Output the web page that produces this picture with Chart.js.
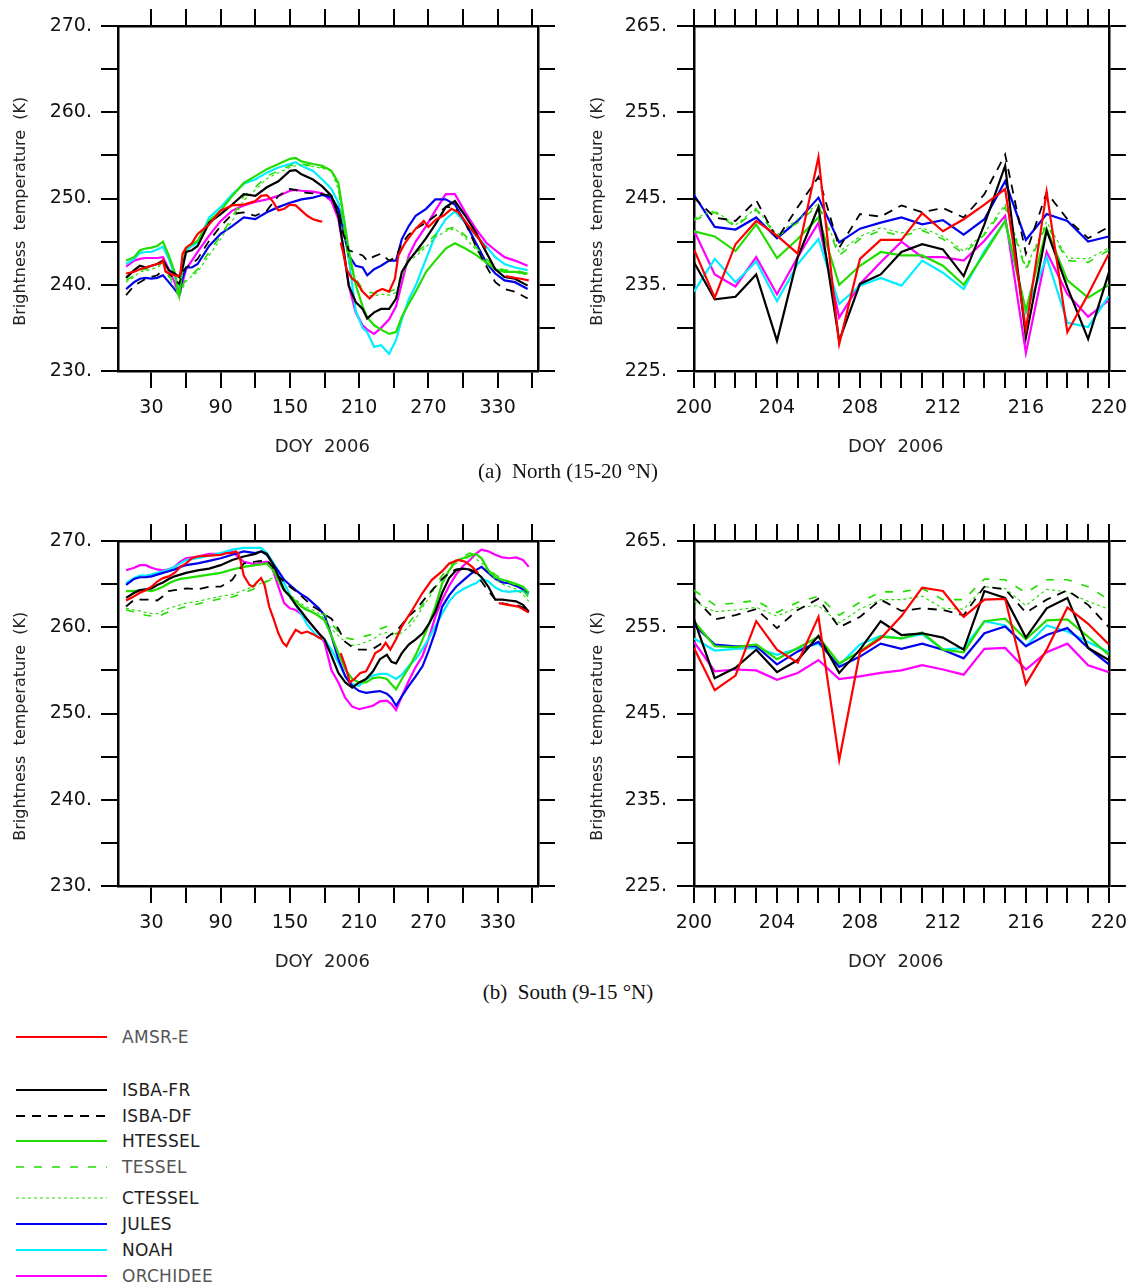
<!DOCTYPE html>
<html><head><meta charset="utf-8">
<script src="https://cdn.jsdelivr.net/npm/chart.js@4.4.1/dist/chart.umd.min.js"></script>
<style>
html,body{margin:0;padding:0;background:#fff;}
#wrap{position:relative;width:1136px;height:1288px;overflow:hidden;background:#fff;}
canvas{position:absolute;}
.cap{position:absolute;left:0;width:1136px;text-align:center;font-family:'Liberation Serif','Times New Roman',serif;font-size:21px;line-height:24px;color:#111;white-space:pre;}
.leg{position:absolute;left:122px;font-family:'DejaVu Sans',sans-serif;font-size:17px;line-height:20px;color:#222;white-space:pre;letter-spacing:0.3px;}
svg{position:absolute;}
</style></head><body><div id="wrap">
<canvas id="cTL" width="568" height="460" style="left:0;top:0"></canvas>
<canvas id="cTR" width="568" height="460" style="left:568px;top:0"></canvas>
<canvas id="cBL" width="568" height="460" style="left:0;top:515px"></canvas>
<canvas id="cBR" width="568" height="460" style="left:568px;top:515px"></canvas>
<div class="cap" style="top:459px">(a)  North (15-20 °N)</div>
<div class="cap" style="top:980px">(b)  South (9-15 °N)</div>
<div id="legend"></div>
</div>
<script>
// ---------------- DATA ----------------
const seriesNames = ['AMSR-E','ISBA-FR','ISBA-DF','HTESSEL','TESSEL','CTESSEL','JULES','NOAH','ORCHIDEE'];

const leftXTicks = [30,60,90,120,150,180,210,240,270,300,330,360];
const leftXLabels = [30,90,150,210,270,330];
const rightXTicks = [200,201,202,203,204,205,206,207,208,209,210,211,212,213,214,215,216,217,218,219,220];
const rightXLabels = [200,204,208,212,216,220];

// North, full year
const northDays = [8,15,20,25,30,35,40,45,50,54,57,60,65,70,80,90,100,110,120,130,140,150,155,160,170,178,186,192,196,201,207,213,217,223,229,236,242,247,253,259,268,276,285,293,302,311,320,328,336,345,356];
const northAmsrDays = [8,15,20,25,30,35,38,40,42,45,50,53,55,57,60,65,70,80,90,100,110,120,125,130,135,140,145,150,155,160,165,170,175,178,186,194,196,199,204,208,213,219,225,230,236,241,244,250,259,266,270,277,283,290,296,305,314,320,328,337,345,350,357];
const northAmsr = [241.3,241.5,241.8,242.0,242.2,242.4,242.5,242.8,241.6,241.3,241.1,241.0,241.2,243.6,244.3,244.8,245.9,247.0,248.6,249.2,249.3,249.7,250.3,250.4,249.7,248.6,248.8,249.3,249.2,248.6,248.0,247.6,247.4,247.3,null,244.9,243.8,241.8,240.7,240.3,239.2,238.4,239.2,239.5,239.2,240.7,243.4,244.9,246.5,247.4,246.7,247.6,248.0,248.8,248.4,246.8,245.3,244.2,null,241.0,240.8,240.7,240.5];
const northIsbaFr = [240.8,241.7,242.2,242.0,242.2,242.4,242.8,241.7,241.3,240.9,242.0,243.8,244.0,244.5,247.2,248.2,249.3,250.5,250.3,251.3,252.0,253.2,253.3,252.8,252.2,251.4,250.3,248.0,244.5,239.9,238.0,237.2,236.1,236.8,237.2,237.2,238.4,241.5,242.8,243.8,245.4,247.0,249.0,249.7,248.0,246.1,243.8,241.8,240.9,240.7,239.9];
const northIsbaDf = [238.8,239.9,240.3,240.7,240.9,241.1,241.7,241.3,240.7,240.1,241.5,242.0,242.4,243.0,245.1,246.8,248.2,248.4,248.0,248.6,250.3,251.1,251.0,250.7,250.6,250.5,250.3,248.6,246.0,244.0,243.7,243.4,242.8,243.3,243.6,242.8,243.2,244.8,245.8,246.5,247.2,248.0,249.0,249.0,247.2,244.5,242.2,240.3,239.5,239.2,238.4];
const northHtessel = [242.8,243.2,244.0,244.2,244.3,244.5,245.0,243.4,241.5,238.8,242.0,244.3,244.7,245.1,247.4,248.6,250.3,251.8,252.6,253.4,254.0,254.6,254.7,254.3,254.0,253.8,253.2,251.8,248.4,244.0,240.0,237.5,236.2,235.3,234.8,234.3,234.5,236.3,237.8,239.2,241.5,242.8,244.2,244.8,244.2,243.5,242.6,241.8,241.5,241.5,241.3];
const northTessel = [240.5,241.1,241.7,241.8,242.0,242.2,242.6,241.1,239.9,238.6,239.9,240.7,241.2,241.8,243.8,245.7,247.8,250.3,251.3,252.6,253.2,253.8,254.0,254.0,253.8,253.6,253.4,251.5,247.2,243.0,240.7,239.5,239.2,239.0,239.2,239.2,239.5,241.3,243.0,243.6,244.7,245.8,246.4,246.7,245.7,244.4,243.0,242.0,241.7,241.7,241.3];
const northCtessel = [240.3,240.9,241.5,241.6,241.8,242.0,242.4,240.9,239.7,238.5,239.6,240.4,241.0,241.5,243.4,245.3,247.4,249.8,251.0,252.3,253.0,253.6,253.8,253.9,253.7,253.5,253.2,251.0,246.8,242.6,240.3,239.0,238.8,238.7,238.9,238.8,239.1,240.9,242.7,243.3,244.4,245.5,246.2,246.5,245.4,244.1,242.7,241.8,241.5,241.5,241.1];
const northJules = [239.5,240.3,240.7,240.8,240.7,240.8,241.1,240.3,239.5,238.8,240.8,242.0,242.0,242.4,244.5,245.9,246.8,247.8,247.6,248.4,249.0,249.5,249.7,249.9,250.1,250.4,250.1,248.8,246.5,243.4,242.2,242.0,241.1,241.8,242.2,242.8,242.8,245.3,246.8,248.0,248.8,249.9,249.9,249.3,247.2,244.9,242.6,241.3,240.5,240.3,239.5];
const northNoah = [242.4,243.0,243.7,243.8,243.8,244.1,244.4,243.0,241.1,239.2,241.8,244.0,244.5,244.9,247.8,249.0,250.5,251.7,252.2,253.0,253.6,254.0,254.2,253.8,253.2,252.2,251.1,249.5,247.0,243.0,237.0,235.0,234.5,232.8,233.0,232.0,233.6,236.0,238.3,239.9,243.0,245.7,247.6,248.5,247.2,245.7,244.5,243.2,242.4,242.0,241.7];
const northOrchidee = [242.1,242.8,243.0,243.1,243.1,243.1,243.2,241.8,240.3,238.8,240.3,241.8,242.8,243.8,245.7,247.4,248.6,249.2,249.6,249.9,250.3,250.9,251.0,250.9,250.8,250.6,249.7,247.6,244.5,239.9,236.8,235.3,234.8,234.3,235.0,236.0,237.5,240.2,243.4,245.0,246.8,248.6,250.5,250.5,248.4,246.5,244.9,244.0,243.2,242.8,242.2];

// South, full year
const southDays = [8,15,20,25,30,35,40,45,50,55,60,70,80,90,100,110,120,125,130,135,140,145,150,155,160,165,170,175,180,186,192,198,204,210,216,222,228,234,238,242,247,253,259,265,270,276,282,288,294,300,306,311,316,322,328,334,340,346,352,357];
const southAmsrDays = [8,15,20,25,30,35,40,45,50,55,60,65,70,80,90,95,100,103,105,107,110,115,118,122,125,128,132,136,140,144,147,150,155,160,165,170,175,178,186,194,198,202,206,211,216,220,224,229,233,237,242,247,256,265,273,282,288,296,302,308,313,322,331,339,348,357];
const southAmsr = [263.1,263.6,264.0,264.3,264.7,265.3,265.7,265.9,266.3,267.0,267.4,268.0,268.2,268.3,268.4,268.6,268.6,268.8,268.6,267.8,266.0,264.9,264.7,265.3,265.7,264.9,262.4,260.9,259.3,258.2,257.8,258.6,259.7,259.3,259.5,259.2,258.8,258.6,null,257.0,255.5,253.6,254.0,254.7,254.9,255.9,257.0,257.4,258.2,257.4,258.6,260.1,262.0,264.0,265.5,266.5,267.4,267.8,267.6,267.0,266.3,null,262.8,262.6,262.4,261.7];
const southIsbaFr = [263.4,264.0,264.3,264.4,264.5,264.9,265.2,265.6,265.9,266.1,266.3,266.6,266.8,267.2,267.8,268.2,268.5,268.8,268.5,267.4,265.9,264.3,263.6,262.6,261.8,260.9,260.1,259.3,258.6,256.7,254.7,253.6,253.0,253.6,254.0,254.9,256.3,256.8,256.0,255.8,257.0,258.0,258.6,259.3,260.3,261.8,264.0,265.7,266.6,266.8,266.7,266.4,265.8,264.7,263.2,263.2,263.1,263.0,262.6,261.8];
const southIsbaDf = [262.4,263.2,263.2,263.2,263.2,263.1,263.6,264.2,264.3,264.4,264.5,264.4,264.7,264.7,265.5,267.4,267.6,267.7,267.8,267.0,265.9,265.3,264.7,264.2,263.6,263.0,262.4,262.0,261.5,261.0,259.8,258.3,257.7,257.4,257.4,257.5,258.0,258.8,259.2,259.5,260.3,261.3,262.0,263.0,263.8,264.7,265.6,266.3,266.7,266.8,266.6,266.3,265.3,264.2,263.2,262.8,262.6,262.6,262.3,261.7];
const southHtessel = [264.2,264.2,264.3,264.3,264.2,264.4,264.7,265.1,265.4,265.6,265.7,265.9,266.1,266.3,266.7,267.0,267.2,267.3,267.4,266.7,265.5,264.3,263.6,263.0,262.4,262.0,261.7,261.3,260.8,259.0,257.0,255.1,254.0,253.6,253.6,254.1,254.2,254.0,253.4,252.8,254.0,255.3,256.8,258.6,260.2,262.4,265.1,266.6,267.7,268.0,268.3,268.5,268.0,266.6,265.8,265.5,265.3,265.0,264.7,264.0];
const southTessel = [262.0,261.8,261.6,261.4,261.3,261.2,261.5,261.8,262.0,262.2,262.4,262.7,263.0,263.3,263.5,264.0,264.5,264.9,265.3,265.6,265.3,264.2,263.4,262.8,262.3,262.0,261.8,261.6,261.5,260.4,259.5,258.8,258.6,258.8,259.0,259.2,259.8,260.1,259.6,259.2,259.8,260.5,261.5,262.6,263.6,264.9,266.0,267.0,267.8,268.2,268.6,268.4,268.0,266.7,266.1,265.6,265.2,264.9,264.3,263.4];
const southCtessel = [262.2,262.0,261.9,261.7,261.6,261.6,261.9,262.2,262.4,262.6,262.8,263.0,263.3,263.6,263.8,264.3,264.8,265.1,265.4,265.7,265.4,264.5,263.8,263.2,262.7,262.3,262.0,261.6,261.0,259.8,259.0,258.3,257.9,258.0,258.3,258.6,259.2,259.4,259.2,258.8,259.4,260.0,261.0,262.3,263.3,264.6,265.6,266.6,267.4,267.8,268.2,267.9,267.5,266.4,265.6,265.0,264.7,264.4,263.8,263.0];
const southJules = [264.9,265.6,265.8,265.8,265.9,266.1,266.3,266.5,266.7,267.0,267.2,267.4,267.7,268.0,268.4,268.8,268.6,268.8,268.4,267.4,266.5,265.5,264.9,264.3,263.8,263.4,262.8,262.2,261.4,259.0,256.3,254.3,253.2,252.6,252.4,252.5,252.6,252.3,251.8,250.9,252.0,253.2,254.3,255.5,257.2,259.5,262.4,263.7,264.7,265.4,266.1,266.6,267.0,266.3,265.6,265.2,265.1,264.8,264.4,264.0];
const southNoah = [265.1,265.7,266.0,266.0,266.1,266.3,266.5,266.7,267.0,267.4,267.8,268.0,268.3,268.6,269.0,269.2,269.2,269.2,268.6,267.6,266.5,265.1,263.8,262.6,261.5,260.3,259.5,258.8,258.6,257.4,255.9,254.3,253.4,253.2,254.0,254.4,254.6,254.6,254.3,254.0,254.5,255.5,256.3,257.5,258.6,260.1,261.6,263.0,263.9,264.4,264.8,265.1,265.6,265.3,264.6,264.2,264.1,264.2,264.2,263.8];
const southOrchidee = [266.6,266.9,267.2,267.2,266.9,266.7,266.6,266.7,267.0,267.6,268.0,268.2,268.5,268.5,268.8,267.6,267.3,267.5,267.6,266.7,264.7,262.8,262.2,262.0,261.5,260.9,260.1,259.3,258.2,255.0,253.6,251.8,250.8,250.5,250.7,250.9,251.4,251.5,251.1,250.4,252.0,253.8,255.4,256.7,258.6,261.2,263.2,264.8,266.1,267.1,267.8,268.5,269.0,268.8,268.4,268.1,268.0,268.1,267.8,267.0];

// Zoom DOY 200-220
const zoomDays = [200,201,202,203,204,205,206,207,208,209,210,211,212,213,214,215,216,217,218,219,220];
const nzAmsr = [239.1,233.5,239.7,242.4,240.7,238.6,249.8,228.1,238.0,240.2,240.2,243.3,241.2,242.6,244.3,246.1,229.8,245.8,229.5,233.9,238.6];
const nzIsbaFr = [237.6,233.3,233.6,236.2,228.5,238.2,244.0,228.5,235.1,236.2,238.8,239.7,239.1,236.0,242.0,248.8,228.9,241.3,234.7,228.7,236.4];
const nzIsbaDf = [245.1,242.8,242.4,244.8,240.3,244.0,247.5,239.3,243.2,242.9,244.2,243.4,243.9,242.8,245.5,250.1,238.6,245.7,242.6,240.4,241.7];
const nzHtessel = [241.2,240.6,238.9,242.0,238.1,240.3,242.8,235.0,237.2,238.8,238.4,238.4,237.2,235.0,238.6,242.4,232.0,241.5,235.5,233.5,235.0];
const nzTessel = [242.5,243.4,241.7,243.7,240.6,242.2,244.2,238.4,240.3,241.3,240.6,241.3,240.3,238.6,240.8,244.0,236.7,242.0,237.8,237.6,239.0];
const nzCtessel = [242.7,243.6,241.9,243.9,240.8,242.6,244.4,238.8,240.6,241.6,241.0,241.6,240.6,238.9,241.0,244.3,237.0,242.3,238.1,238.0,239.3];
const nzJules = [245.4,241.7,241.4,242.8,240.4,242.4,245.1,239.9,241.5,242.2,242.8,242.0,242.5,240.8,242.6,247.0,240.2,243.2,242.4,240.0,240.6];
const nzNoah = [234.2,238.0,235.3,237.7,233.1,237.4,240.3,232.8,234.9,235.8,234.9,237.8,236.4,234.5,238.9,242.4,231.8,238.2,230.6,230.1,233.7];
const nzOrchidee = [241.3,236.2,234.8,238.2,233.9,238.2,242.2,231.2,235.1,237.6,240.0,238.2,238.2,237.8,240.1,243.0,227.1,238.8,233.9,231.3,233.2];

const szAmsr = [252.6,247.7,249.4,255.7,252.4,250.9,256.2,239.6,252.1,253.7,256.3,259.6,259.2,256.2,258.2,258.3,248.4,252.4,257.3,255.4,253.0];
const szIsbaFr = [255.9,249.1,250.3,252.4,249.8,251.2,254.0,249.7,252.4,255.7,254.1,254.3,253.8,252.4,259.2,258.4,253.8,257.2,258.4,252.6,251.2];
const szIsbaDf = [258.5,255.9,256.4,257.1,254.9,257.0,258.3,255.0,256.2,258.2,256.9,257.2,257.0,256.4,259.7,259.4,256.7,258.2,259.3,257.6,255.0];
const szHtessel = [255.7,252.8,252.7,253.0,251.3,252.6,253.9,250.8,252.2,253.9,253.7,254.4,252.4,252.1,255.7,256.0,253.6,255.8,255.9,253.9,251.8];
const szTessel = [259.3,257.6,257.8,258.1,256.7,257.9,258.6,256.4,257.9,259.1,259.1,259.5,258.2,258.2,260.6,260.5,259.0,260.5,260.5,259.7,258.2];
const szCtessel = [258.0,256.8,257.0,257.3,256.3,257.3,257.5,255.5,257.1,258.2,258.2,258.6,257.2,257.1,259.7,259.5,257.5,259.4,259.1,258.0,257.1];
const szJules = [255.3,253.0,252.8,252.8,250.7,252.2,253.3,250.4,251.6,253.1,252.5,253.1,252.4,251.4,254.3,255.1,252.8,254.1,254.9,252.6,250.7];
const szNoah = [253.7,252.3,252.5,252.6,251.8,252.5,253.1,250.6,253.0,254.0,253.7,254.2,252.4,252.6,255.7,255.2,252.8,255.2,254.5,253.3,252.1];
const szOrchidee = [253.3,249.9,250.1,250.0,248.9,249.7,251.2,249.0,249.3,249.7,250.0,250.6,250.1,249.5,252.5,252.6,250.1,252.1,253.1,250.6,249.8];

// ---------------- STYLE ----------------
const GREEN = '#22dd00';
const seriesStyles = [
  {color:'#ff0000', width:2.2, dash:[]},
  {color:'#000000', width:2.2, dash:[]},
  {color:'#000000', width:1.8, dash:[9,7]},
  {color:GREEN,     width:2.2, dash:[]},
  {color:GREEN,     width:1.6, dash:[8,10]},
  {color:GREEN,     width:1.1, dash:[3,3]},
  {color:'#0000ee', width:2.2, dash:[]},
  {color:'#00eeff', width:2.2, dash:[]},
  {color:'#ff00ff', width:2.2, dash:[]}
];
const legendGrey = [true,false,false,false,true,false,false,false,true];

function pts(days, vals){ return days.map((d,i)=>({x:d, y:vals[i]})); }

function datasetsFor(dayLists, valueLists){
  return valueLists.map((vals,i)=>({
    label: seriesNames[i],
    data: pts(dayLists[i], vals),
    borderColor: seriesStyles[i].color,
    borderWidth: seriesStyles[i].width,
    borderDash: seriesStyles[i].dash,
    pointRadius: 0,
    tension: 0,
    fill: false,
    spanGaps: false
  }));
}

const tickFont = {family:'DejaVu Sans', size:19};
const titleFont = {family:'DejaVu Sans', size:16};
const xTitleFont = {family:'DejaVu Sans', size:18};
const INK = '#111';

function gridOpts(){ return {drawOnChartArea:false, drawTicks:true, tickLength:17, lineWidth:2, color:'#000'}; }
function borderOpts(){ return {display:true, color:'#000', width:2.5}; }

function makeChart(id, p){
  const xTicksFn = ax => { ax.ticks = p.xTicks.map(v=>({value:v})); };
  new Chart(document.getElementById(id), {
    type:'line',
    data:{datasets: datasetsFor(p.dayLists, p.valueLists)},
    options:{
      responsive:false, animation:false, devicePixelRatio:1,
      layout:{padding:0},
      plugins:{legend:{display:false}, tooltip:{enabled:false}},
      scales:{
        x:{type:'linear', position:'bottom', min:p.xMin, max:p.xMax,
           afterBuildTicks:xTicksFn,
           ticks:{autoSkip:false, maxRotation:0, minRotation:0, padding:9, font:tickFont, color:INK,
                  callback:v => p.xLabels.includes(v) ? String(v) : ''},
           grid:gridOpts(), border:borderOpts(),
           title:{display:true, text:'DOY  2006  ', font:xTitleFont, color:'#222', padding:{top:0,bottom:2}},
           afterFit:s=>{ s.height = 89; }},
        x2:{type:'linear', position:'top', min:p.xMin, max:p.xMax,
           afterBuildTicks:xTicksFn,
           ticks:{display:false}, grid:gridOpts(), border:borderOpts(),
           afterFit:s=>{ s.height = 26; }},
        y:{type:'linear', position:'left', min:p.yMin, max:p.yMax,
           ticks:{stepSize:5, autoSkip:false, padding:p.yPad, font:tickFont, color:INK,
                  callback:v => ((v - p.yMin) % 10 === 0) ? v + '.' : ''},
           grid:gridOpts(), border:borderOpts(),
           title:{display:true, text:'Brightness  temperature  (K)     ', font:titleFont, color:'#222', padding:{top:p.titlePad, bottom:0}},
           afterFit:s=>{ s.width = p.leftW; }},
        y2:{type:'linear', position:'right', min:p.yMin, max:p.yMax,
           ticks:{stepSize:5, display:false}, grid:gridOpts(), border:borderOpts(),
           afterFit:s=>{ s.width = p.rightW; }}
      }
    }
  });
}

const nDayLists = [northAmsrDays].concat(Array(8).fill(northDays));
const sDayLists = [southAmsrDays].concat(Array(8).fill(southDays));
const zDayLists = Array(9).fill(zoomDays);

makeChart('cTL', {dayLists:nDayLists, valueLists:[northAmsr,northIsbaFr,northIsbaDf,northHtessel,northTessel,northCtessel,northJules,northNoah,northOrchidee],
  xMin:1, xMax:365, xTicks:leftXTicks, xLabels:leftXLabels, yMin:230, yMax:270, leftW:118, rightW:30, yPad:9, titlePad:11});
makeChart('cTR', {dayLists:zDayLists, valueLists:[nzAmsr,nzIsbaFr,nzIsbaDf,nzHtessel,nzTessel,nzCtessel,nzJules,nzNoah,nzOrchidee],
  xMin:200, xMax:220, xTicks:rightXTicks, xLabels:rightXLabels, yMin:225, yMax:265, leftW:126, rightW:22, yPad:10, titlePad:20});
makeChart('cBL', {dayLists:sDayLists, valueLists:[southAmsr,southIsbaFr,southIsbaDf,southHtessel,southTessel,southCtessel,southJules,southNoah,southOrchidee],
  xMin:1, xMax:365, xTicks:leftXTicks, xLabels:leftXLabels, yMin:230, yMax:270, leftW:118, rightW:30, yPad:9, titlePad:11});
makeChart('cBR', {dayLists:zDayLists, valueLists:[szAmsr,szIsbaFr,szIsbaDf,szHtessel,szTessel,szCtessel,szJules,szNoah,szOrchidee],
  xMin:200, xMax:220, xTicks:rightXTicks, xLabels:rightXLabels, yMin:225, yMax:265, leftW:126, rightW:22, yPad:10, titlePad:20});

// ---------------- LEGEND ----------------
const legendRowsY = [1037,1090,1116,1141,1167,1198,1224,1250,1276];
const leg = document.getElementById('legend');
seriesNames.forEach((name,i)=>{
  const y = legendRowsY[i];
  const st = seriesStyles[i];
  const svgNS = 'http://www.w3.org/2000/svg';
  const svg = document.createElementNS(svgNS,'svg');
  svg.setAttribute('width','94'); svg.setAttribute('height','8');
  svg.style.left = '15px'; svg.style.top = (y-4)+'px';
  const ln = document.createElementNS(svgNS,'line');
  ln.setAttribute('x1','1'); ln.setAttribute('x2','92'); ln.setAttribute('y1','4'); ln.setAttribute('y2','4');
  ln.setAttribute('stroke', st.color); ln.setAttribute('stroke-width', String(st.width));
  if (st.dash.length) ln.setAttribute('stroke-dasharray', st.dash.join(','));
  svg.appendChild(ln);
  leg.appendChild(svg);
  const t = document.createElement('div');
  t.className = 'leg';
  t.style.top = (y-10)+'px';
  if (legendGrey[i]) t.style.color = '#555';
  t.textContent = name;
  leg.appendChild(t);
});
</script>
</body></html>
